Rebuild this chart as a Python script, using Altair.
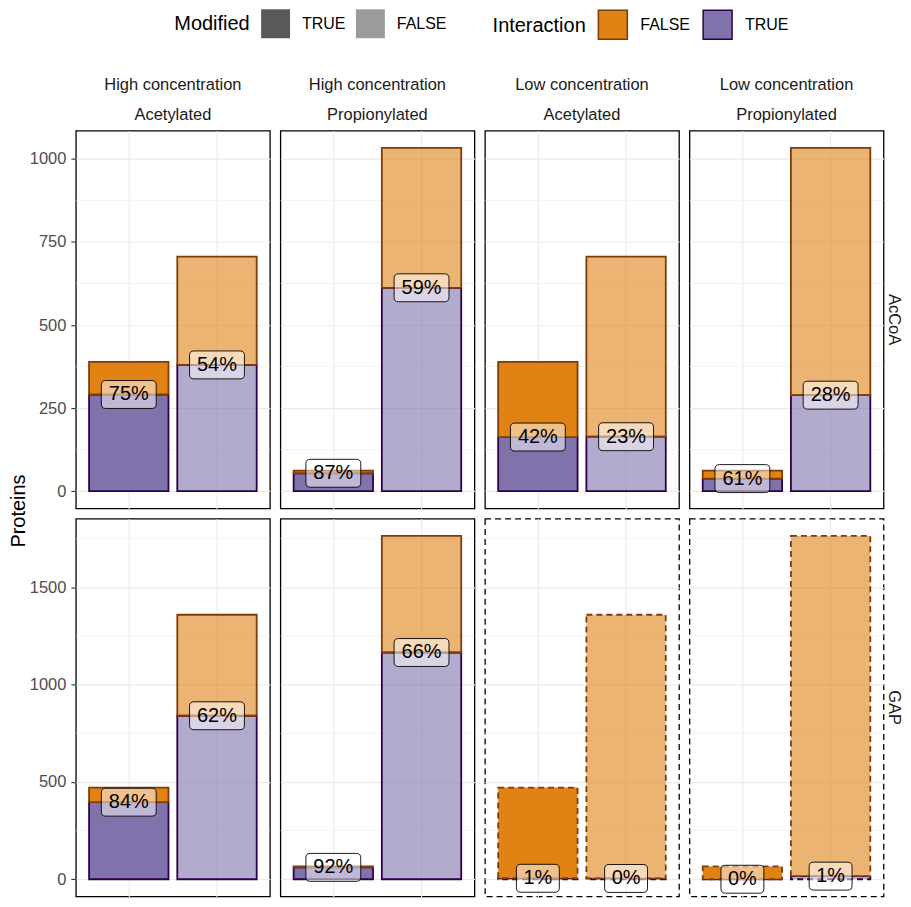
import altair as alt
import pandas as pd

# ---------------- data ----------------
treatments = ["AcCoA", "GAP"]
concentrations = ["High concentration", "Low concentration"]
modifications = ["Acetylated", "Propionylated"]
modified_levels = ["TRUE", "FALSE"]
interaction_levels = ["FALSE", "TRUE"]

# panel order: AcCoA x (High Acet, High Prop, Low Acet, Low Prop), then GAP x same
interacting_mod_true = [291, 54, 163, 38, 396, 61, 5, 0]
noninteracting_mod_true = [98, 8, 226, 24, 75, 5, 466, 66]
interacting_mod_false = [380, 612, 164, 289, 840, 1165, 4, 16]
noninteracting_mod_false = [326, 421, 542, 744, 519, 599, 1355, 1748]

label_mod_true = ["75%", "87%", "42%", "61%", "84%", "92%", "1%", "0%"]
label_mod_false = ["54%", "59%", "23%", "28%", "62%", "66%", "0%", "1%"]

panel_linetype = ["solid", "solid", "solid", "solid", "solid", "solid", "dashed", "dashed"]

major_breaks = {"AcCoA": [0, 250, 500, 750, 1000], "GAP": [0, 500, 1000, 1500]}
minor_breaks = {"AcCoA": [125, 375, 625, 875], "GAP": [250, 750, 1250, 1750]}

fill_colors = ["#E08214", "#8073AC"]
stroke_colors = ["#7F3B08", "#2D004B"]
alpha_levels = [1.0, 0.6]

# ---------------- tables ----------------
panels = [(t, c, m) for t in treatments for c in concentrations for m in modifications]
records, lab_records = [], []
for i, (t, c, m) in enumerate(panels):
    for mod, inter, n in [
        ("TRUE", "TRUE", interacting_mod_true[i]),
        ("TRUE", "FALSE", noninteracting_mod_true[i]),
        ("FALSE", "TRUE", interacting_mod_false[i]),
        ("FALSE", "FALSE", noninteracting_mod_false[i]),
    ]:
        records.append(dict(panel=i, treatment=t, Modified=mod, Interaction=inter,
                            count=n, ord=0 if inter == "TRUE" else 1))
    lab_records.append(dict(panel=i, Modified="TRUE", ypos=interacting_mod_true[i],
                            label=label_mod_true[i], nchar=str(len(label_mod_true[i]))))
    lab_records.append(dict(panel=i, Modified="FALSE", ypos=interacting_mod_false[i],
                            label=label_mod_false[i], nchar=str(len(label_mod_false[i]))))
df = pd.DataFrame(records)
lab = pd.DataFrame(lab_records)
bar_tot = df.groupby(["treatment", "panel", "Modified"])["count"].sum().reset_index()
row_max = bar_tot.groupby("treatment")["count"].max().to_dict()

FONT = "Liberation Sans"
W, H = 194.5, 378.5


def box_path(hw, hh=0.509, r=0.16):
    return (f"M{-hw + r},{-hh}L{hw - r},{-hh}Q{hw},{-hh} {hw},{-hh + r}"
            f"L{hw},{hh - r}Q{hw},{hh} {hw - r},{hh}L{-hw + r},{hh}"
            f"Q{-hw},{hh} {-hw},{hh - r}L{-hw},{-hh + r}Q{-hw},{-hh} {-hw + r},{-hh}Z")


leg_common = dict(orient="none", direction="horizontal", titleOrient="left",
                  titleAnchor="middle", titleBaseline="middle",
                  titleFont=FONT, titleFontSize=20, titleFontWeight="normal", titleColor="black",
                  labelFont=FONT, labelFontSize=16, labelColor="black",
                  symbolType="square", symbolSize=841, labelOffset=12, columnPadding=10,
                  titlePadding=11, legendY=-121.7)
leg_inter = alt.Legend(title="Interaction", legendX=417.7, symbolStrokeWidth=1.5, **leg_common)
leg_mod = alt.Legend(title="Modified", legendX=98.7, symbolFillColor="#595959",
                     symbolStrokeColor="#595959", symbolStrokeWidth=0, **leg_common)


def make_panel(i, col):
    t, c, m = panels[i]
    dmax = row_max[t]
    yscale = alt.Scale(domain=[-0.05 * dmax, 1.05 * dmax], nice=False, zero=False)
    xscale = alt.Scale(domain=modified_levels, paddingInner=0.1, paddingOuter=0.15)
    dashed = panel_linetype[i] == "dashed"
    first = col == 0
    yaxis = alt.Axis(values=major_breaks[t], format="d", title=None, grid=True,
                     gridColor="#EBEBEB", gridWidth=1.1, domain=False, labels=first,
                     ticks=first, tickSize=5, tickColor="#333333", tickWidth=1.1,
                     labelColor="#4D4D4D", labelFont=FONT, labelFontSize=16.5, labelPadding=5)
    xaxis = alt.Axis(title=None, labels=False, ticks=False, domain=False, grid=True,
                     gridColor="#EBEBEB", gridWidth=1.1, bandPosition=0.5)
    xenc = alt.X("Modified:N", scale=xscale, sort=modified_levels, axis=xaxis)
    pdf = df[df.panel == i]
    ldf = lab[lab.panel == i]

    minor = alt.Chart(pd.DataFrame({"v": minor_breaks[t]})).mark_rule(
        color="#EBEBEB", strokeWidth=0.6).encode(y=alt.Y("v:Q", scale=yscale, axis=yaxis))

    bar_kw = dict(strokeWidth=1.8)
    if dashed:
        bar_kw["strokeDash"] = [6, 4]
    bars = alt.Chart(pdf).mark_bar(**bar_kw).encode(
        x=xenc,
        y=alt.Y("count:Q", scale=yscale, axis=yaxis, stack="zero"),
        color=alt.Color("Interaction:N", scale=alt.Scale(domain=interaction_levels, range=fill_colors),
                        legend=leg_inter),
        stroke=alt.Stroke("Interaction:N", scale=alt.Scale(domain=interaction_levels, range=stroke_colors),
                          legend=leg_inter),
        fillOpacity=alt.FillOpacity("Modified:N", scale=alt.Scale(domain=modified_levels, range=alpha_levels),
                                    legend=None),
        order=alt.Order("ord:Q", sort="ascending"),
    )
    boxes = alt.Chart(ldf).mark_point(filled=True, fill="white", fillOpacity=0.5, opacity=1,
                                      stroke="black", strokeWidth=0.9, size=3025).encode(
        x=xenc,
        y=alt.Y("ypos:Q", scale=yscale, axis=yaxis),
        shape=alt.Shape("nchar:N", scale=alt.Scale(domain=["2", "3"],
                                                   range=[box_path(0.782), box_path(1.0)]),
                        legend=None),
    )
    texts = alt.Chart(ldf).mark_text(font=FONT, fontSize=20, color="black",
                                     baseline="middle", align="center").encode(
        x=xenc,
        y=alt.Y("ypos:Q", scale=yscale, axis=yaxis),
        text="label:N",
    )
    layers = [minor, bars, boxes, texts]
    if i == 0:
        # invisible marks that carry the "Modified" legend
        legmark = alt.Chart(pdf).mark_square(size=0, color="#595959", filled=True).encode(
            x=xenc,
            y=alt.Y("count:Q", scale=yscale, axis=yaxis),
            opacity=alt.Opacity("Modified:N", scale=alt.Scale(domain=modified_levels, range=alpha_levels),
                                legend=leg_mod),
        )
        layers.append(legmark)
    if col == 3:
        rl = alt.Chart(pd.DataFrame({"t": [t]})).mark_text(
            font=FONT, fontSize=16.5, color="#1A1A1A", angle=90, align="center",
            baseline="middle").encode(text="t:N", x=alt.value(W + 10.5), y=alt.value(H / 2))
        layers.append(rl)
    view = dict(stroke="black", strokeWidth=1.3, fill="white")
    if dashed:
        view["strokeDash"] = [6, 4]
    ch = alt.layer(*layers).properties(width=W, height=H, view=alt.ViewBackground(**view))
    if t == treatments[0]:
        ch = ch.properties(title=alt.TitleParams(text=[c, m], font=FONT, fontSize=16.5,
                                                 color="#1A1A1A", fontWeight="normal",
                                                 lineHeight=30, anchor="middle", offset=7.7))
    return ch


rows = []
for r, t in enumerate(treatments):
    cells = [make_panel(r * 4 + k, k) for k in range(4)]
    rows.append(alt.hconcat(*cells, spacing=8))

chart = alt.vconcat(*rows, spacing=7.9).properties(
    padding=0,
    title=alt.TitleParams(text="Proteins", orient="left", anchor="middle", font=FONT,
                          fontSize=20, fontWeight="normal", color="black", offset=0, dx=-58),
).configure(background="white")

chart.save("out.html", embed_options={"renderer": "svg", "actions": False})
